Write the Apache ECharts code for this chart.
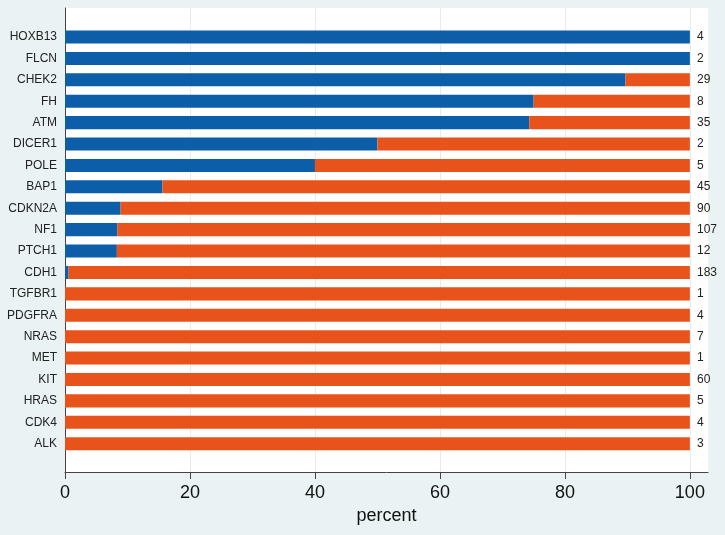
<!DOCTYPE html>
<html>
<head>
<meta charset="utf-8">
<script src="https://cdn.jsdelivr.net/npm/echarts@6/dist/echarts.min.js"></script>
<style>
html,body{margin:0;padding:0;background:#eaf2f4;}
#chart{width:725px;height:535px;}
</style>
</head>
<body>
<div id="chart"></div>
<script>
var genes = ["HOXB13","FLCN","CHEK2","FH","ATM","DICER1","POLE","BAP1","CDKN2A","NF1","PTCH1","CDH1","TGFBR1","PDGFRA","NRAS","MET","KIT","HRAS","CDK4","ALK"];
var bluePct = [100,100,89.7,75,74.3,50,40,15.6,8.9,8.4,8.3,0.55,0,0,0,0,0,0,0,0];
var orangePct = [0,0,10.3,25,25.7,50,60,84.4,91.1,91.6,91.7,99.45,100,100,100,100,100,100,100,100];
var counts = ["4","2","29","8","35","2","5","45","90","107","12","183","1","4","7","1","60","5","4","3"];
var xTicks = [0,20,40,60,80,100];

var chart = echarts.init(document.getElementById('chart'), null, {renderer:'canvas'});
var xMax = 102.9;
chart.setOption({
  backgroundColor:'#eaf2f4',
  animation:false,
  grid:[
    {left:65,right:17,top:8,bottom:63,show:true,backgroundColor:'#ffffff',borderWidth:0},
    {left:65,right:17,top:26.3,bottom:80.6}
  ],
  xAxis:[
    {gridIndex:0,type:'value',min:0,max:xMax,interval:20,
     name:'percent',nameLocation:'middle',nameGap:33,
     nameTextStyle:{fontFamily:'Liberation Sans, Arial',fontSize:18,color:'#111'},
     axisLine:{show:true,lineStyle:{color:'#444',width:1}},
     axisTick:{show:true,length:7,customValues:xTicks,lineStyle:{color:'#444'}},
     axisLabel:{customValues:xTicks,fontFamily:'Liberation Sans, Arial',fontSize:18,color:'#111',margin:12},
     splitLine:{show:true,lineStyle:{color:'#e3ecef',width:1}}
    },
    {gridIndex:1,type:'value',min:0,max:xMax,show:false}
  ],
  yAxis:[
    {gridIndex:0,type:'value',min:0,max:1,
     axisLine:{show:true,onZero:false,lineStyle:{color:'#444',width:1}},
     axisTick:{show:false},axisLabel:{show:false},splitLine:{show:false}},
    {gridIndex:1,type:'category',data:genes,inverse:true,
     axisLine:{show:false},axisTick:{show:false},
     axisLabel:{fontFamily:'Liberation Sans, Arial',fontSize:12,color:'#222',margin:8}},
    {gridIndex:1,type:'category',data:counts,inverse:true,position:'right',offset:-11,
     axisLine:{show:false},axisTick:{show:false},
     axisLabel:{fontFamily:'Liberation Sans, Arial',fontSize:12,color:'#222',margin:0,align:'left'}}
  ],
  series:[
    {type:'bar',name:'blue',xAxisIndex:1,yAxisIndex:1,stack:'s',data:bluePct,barWidth:'61%',
     itemStyle:{color:'#0d5ea8'}},
    {type:'bar',name:'orange',xAxisIndex:1,yAxisIndex:1,stack:'s',data:orangePct,barWidth:'61%',
     itemStyle:{color:'#e8521b'}}
  ]
});
</script>
</body>
</html>
